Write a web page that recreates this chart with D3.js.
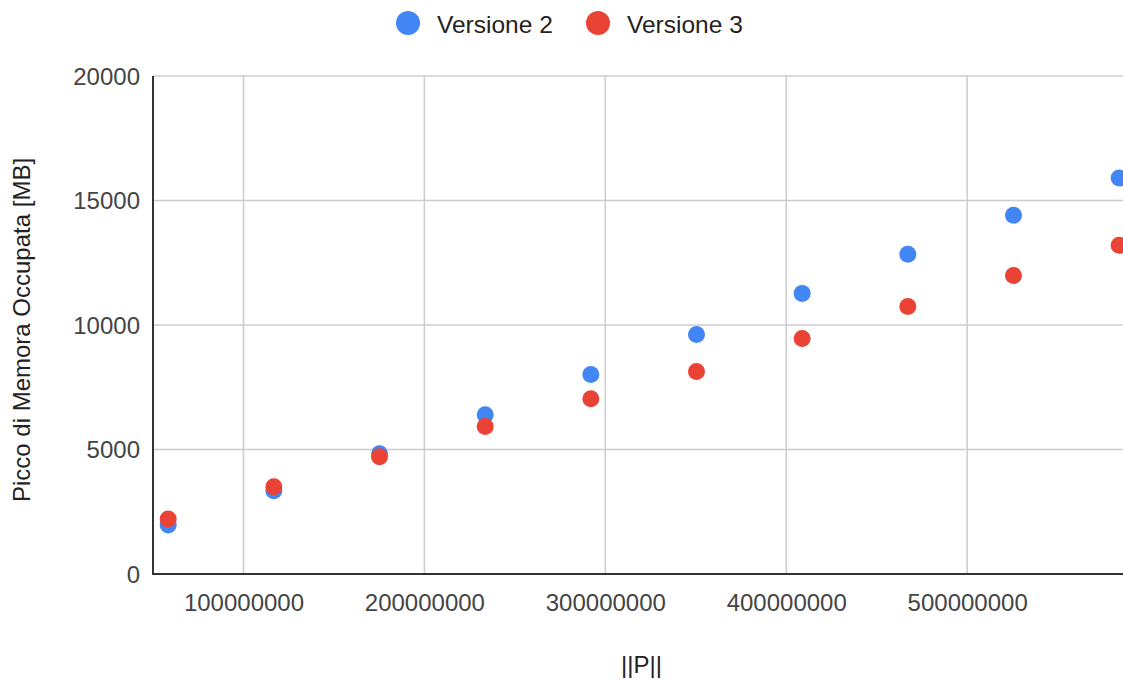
<!DOCTYPE html>
<html>
<head>
<meta charset="utf-8">
<script src="https://cdn.jsdelivr.net/npm/d3@7"></script>
<style>
  body { margin: 0; background: #fff; }
  svg { display: block; }
</style>
</head>
<body>
<div id="chart"></div>
<script>
const width = 1123;
const height = 680;
const marginTop = 76;
const marginLeft = 153;
const plotBottom = 574;
const plotRight = 1130;
const font = 'Liberation Sans, Arial, sans-serif';

// ||P|| values
const sizes = [58400000, 116800000, 175200000, 233600000, 292000000,
    350400000, 408800000, 467200000, 525600000, 584000000];
const versione2 = [1970, 3340, 4830, 6400, 8010, 9620, 11270, 12840, 14410, 15900];
const versione3 = [2210, 3500, 4710, 5920, 7040, 8130, 9460, 10740, 11990, 13200];
const xTicks = [100000000, 200000000, 300000000, 400000000, 500000000];
const yTicks = [0, 5000, 10000, 15000, 20000];
const seriesNames = ['Versione 2', 'Versione 3'];
const seriesColors = ['#4285f4', '#ea4335'];

const svg = d3.select('#chart')
    .append('svg')
    .attr('width', width)
    .attr('height', height);

const x = d3.scaleLinear()
    .domain([50000000, 590000000])
    .range([marginLeft, plotRight]);

const y = d3.scaleLinear()
    .domain([0, 20000])
    .range([plotBottom, marginTop]);

// gridlines
svg.append('g')
    .selectAll('line')
    .data(yTicks.slice(1))
    .enter()
    .append('line')
    .attr('x1', marginLeft)
    .attr('x2', plotRight)
    .attr('y1', (d) => y(d))
    .attr('y2', (d) => y(d))
    .attr('stroke', '#cccccc')
    .attr('stroke-width', 1.5);

svg.append('g')
    .selectAll('line')
    .data(xTicks)
    .enter()
    .append('line')
    .attr('x1', (d) => x(d))
    .attr('x2', (d) => x(d))
    .attr('y1', marginTop)
    .attr('y2', plotBottom)
    .attr('stroke', '#cccccc')
    .attr('stroke-width', 1.5);

// axes
const yAxis = svg.append('g')
    .attr('class', 'yAxis')
    .attr('transform', `translate(${marginLeft},0)`)
    .call(d3.axisLeft(y).tickValues(yTicks).tickSize(0).tickPadding(13).tickFormat(d3.format('d')));

const xAxis = svg.append('g')
    .attr('class', 'xAxis')
    .attr('transform', `translate(0,${plotBottom})`)
    .call(d3.axisBottom(x).tickValues(xTicks).tickSize(0).tickPadding(20).tickFormat(d3.format('d')));

[xAxis, yAxis].forEach((g) => {
    g.select('.domain').remove();
    g.selectAll('text')
        .style('font-family', font)
        .style('font-size', '24px')
        .attr('fill', '#444');
});
yAxis.selectAll('text').attr('dy', '0.35em');

svg.append('line')
    .attr('x1', marginLeft)
    .attr('x2', marginLeft)
    .attr('y1', marginTop)
    .attr('y2', plotBottom + 1)
    .attr('stroke', '#333')
    .attr('stroke-width', 2);

svg.append('line')
    .attr('x1', marginLeft - 1)
    .attr('x2', width)
    .attr('y1', plotBottom)
    .attr('y2', plotBottom)
    .attr('stroke', '#333')
    .attr('stroke-width', 2);

// points
const series = [versione2, versione3];
series.forEach((vals, i) => {
    svg.append('g')
        .selectAll('circle')
        .data(vals)
        .enter()
        .append('circle')
        .attr('cx', (d, j) => x(sizes[j]))
        .attr('cy', (d) => y(d))
        .attr('r', 8.5)
        .attr('fill', seriesColors[i]);
});

// legend
const legendX = [408, 598];
seriesNames.forEach((name, i) => {
    svg.append('circle')
        .attr('cx', legendX[i])
        .attr('cy', 23)
        .attr('r', 12)
        .attr('fill', seriesColors[i]);
    svg.append('text')
        .attr('x', legendX[i] + 29)
        .attr('y', 24)
        .attr('dy', '0.35em')
        .text(name)
        .style('font-family', font)
        .style('font-size', '24.5px')
        .attr('fill', '#222');
});

// axis titles
svg.append('text')
    .attr('x', -330)
    .attr('y', 22)
    .attr('dy', '0.35em')
    .attr('transform', 'rotate(-90)')
    .text('Picco di Memora Occupata [MB]')
    .style('font-family', font)
    .style('font-size', '24px')
    .style('text-anchor', 'middle')
    .attr('fill', '#222');

svg.append('text')
    .attr('x', (marginLeft + plotRight) / 2)
    .attr('y', 665)
    .attr('dy', '0.35em')
    .text('||P||')
    .style('font-family', font)
    .style('font-size', '24px')
    .style('text-anchor', 'middle')
    .attr('fill', '#222');
</script>
</body>
</html>
